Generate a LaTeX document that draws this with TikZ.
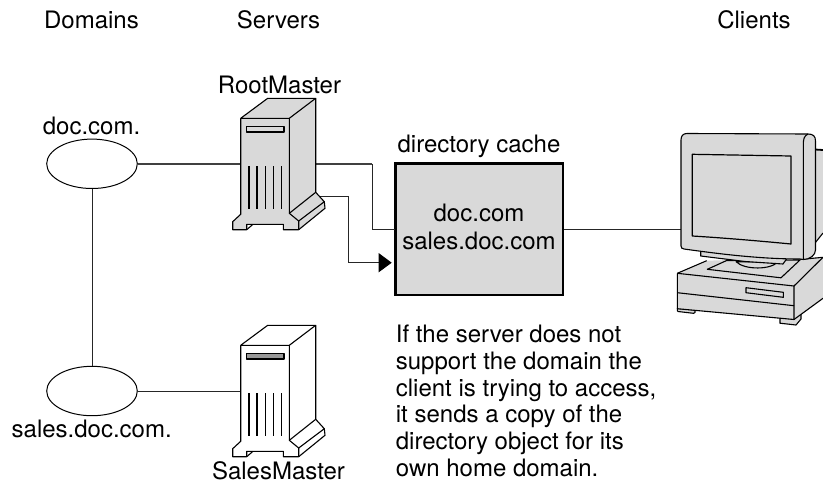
\documentclass[tikz,border=0pt]{standalone}
\usepackage{fontspec}
\setmainfont{TeX Gyre Heros}
\usetikzlibrary{shapes.geometric,arrows.meta}
\definecolor{panel}{HTML}{D9D9D9}
\definecolor{slotdark}{HTML}{999999}
\tikzset{
  x=1pt,y=-1pt,
  lab/.style={font=\fontsize{24}{26.8}\selectfont,text=black,inner sep=0pt,anchor=base},
  dom/.style={draw=black,line width=1pt,ellipse,fill=white,minimum width=90.6pt,minimum height=49.4pt,inner sep=0pt},
  conn/.style={draw=black!85,line width=1pt},
  connb/.style={draw=black!75,line width=1.5pt},
  art/.style={draw=black,line width=1.1pt,line join=round},
  cache/.style={draw=black,line width=2.5pt,fill=panel,inner sep=0pt},
  anchorbox/.style={inner sep=0pt,minimum width=0pt,minimum height=0pt}
}
% #1 y shift, #2 body fill, #3 slot fill
\newcommand{\serverart}[3]{%
\begin{scope}[yshift=-#1pt]
 \fill[#2] (240.7,118.3)--(267.7,98.3)--(315.7,98.3)--(315.7,192.3)--(324.3,201.7)--(325,208.3)--(298.7,229.7)--(283.3,229.7)--(283.3,224.3)--(246.7,224.3)--(246.7,229.7)--(232.7,229.7)--(232.7,221.7)--(240.7,214.3)--cycle;
 \draw[art] (240.7,118.3)--(267.7,98.3)--(315.7,98.3)--(289.3,118.3)--cycle;
 \draw[art] (240.7,118.3)--(240.7,214.3)--(232.7,221.7)--(232.7,229.7)--(246.7,229.7)--(246.7,224.3)--(283.3,224.3)--(283.3,229.7)--(298.7,229.7)--(298.7,221)--(289.3,213.3)--(289.3,118.3);
 \draw[art] (315.7,98.3)--(315.7,192.3)--(289.3,213.3);
 \draw[art] (315.7,192.3)--(324.3,201.7)--(298.7,221);
 \draw[art] (324.3,201.7)--(325,208.3)--(298.7,229.7);
 \draw[art] (246.7,229.7)--(253,224.3);
 \draw[art,fill=#3] (246.3,126.3) rectangle (284,132);
 \foreach \vx in {249,257,265.3,273.3,281.3}{\draw[art] (\vx,166)--(\vx,209);}
\end{scope}}
\begin{document}
\begin{tikzpicture}
\useasboundingbox (0,0) rectangle (823,485);
\fill[white] (0,0) rectangle (823,485);
% text
\node[lab] (hdom) at (91.5,28) {Domains};
\node[lab] (hsrv) at (278.5,28) {Servers};
\node[lab] (hcli) at (754,28) {Clients};
\node[lab] (lroot) at (279.5,93) {RootMaster};
\node[lab] (ldoc) at (91.5,134) {doc.com.};
\node[lab] (lcache) at (479,152.7) {directory cache};
\node[lab] (lsales) at (91.7,437.7) {sales.doc.com.};
\node[lab] (lsm) at (278.5,479) {SalesMaster};
\foreach \nn/\ny/\nt in {a/342.7/{If the server does not},b/369.4/{support the domain the},c/396/{client is trying to access,},d/422.7/{it sends a copy of the},e/449.4/{directory object for its},f/476/{own home domain.}}{
  \node[lab,anchor=base west] (note\nn) at (395.7,\ny) {\nt};
}
% anchor nodes
\node[dom] (edoc) at (92,163.8) {};
\node[dom] (esales) at (92,391) {};
\node[anchorbox] (srvA) at (240.7,163.8) {};
\node[anchorbox] (srvAr) at (315.7,163.8) {};
\node[anchorbox] (srvAb) at (319,196.7) {};
\node[anchorbox] (srvB) at (240.7,391) {};
\node[anchorbox] (mon) at (681,229.3) {};
\node[cache,minimum width=167.5pt,minimum height=131.3pt] (box) at (479.3,229.3) {};
\node[lab] (boxa) at (479,221.7) {doc.com};
\node[lab] (boxb) at (479,249) {sales.doc.com};
\coordinate (boxin) at (394.5,229.5);
\coordinate (boxarr) at (391.7,262.7);
% connectors
\draw[conn] (edoc) -- (esales);
\draw[connb] (edoc) -- (srvA);
\draw[conn] (esales) -- (srvB);
\draw[connb] (srvAr) -- (372,163.8);
\draw[conn] (372,163.8) -- (372,229.5) -- (boxin);
\draw[conn,-{Triangle[length=13pt,width=19pt,color=black]}] (srvAb) -- (348,196.7) -- (348,262.7) -- (boxarr);
\draw[conn] (box.east |- mon) -- (mon);
% servers
\serverart{0}{panel}{panel}
\serverart{227}{white}{slotdark}
% client: back of monitor
\fill[panel] (815,149.5)--(823,150)--(823,233)--(815,243)--cycle;
\draw[art,line width=1.8pt] (815,149.5)--(823,150);
\draw[art] (815,243)--(823,233);
% base unit
\draw[art,fill=panel] (677.3,308.5)--(695,310)--(695,312.5)--(693.5,313.3)--(678,311.5)--(677.3,310.5)--cycle;
\draw[art,fill=panel] (780,317)--(780,323.2)--(796,325)--(801,319)--(801,312)--cycle;
\fill[panel] (677.3,273.3)--(706.7,260.7)--(823,257.3)--(823,298.3)--(794,319.5)--(677.3,308.7)--cycle;
\draw[art] (677.3,273.3)--(706.7,260.7);
\draw[art] (800,259.5)--(823,257.3);
\draw[art] (677.3,273.3)--(794,286)--(823,257.3);
\draw[art] (677.3,273.3)--(677.3,308.7)--(794,319.5)--(794,286);
\draw[art] (677.3,292.7)--(794,305.7);
\draw[art] (794,319.5)--(823,298.3);
\draw[art] (746,287.7)--(783.3,292.3)--(783.3,297.3)--(746,292.7)--cycle;
% platform and stand
\draw[art,fill=panel] (707.3,269.3)--(726.7,260.5)--(800,260)--(781,277.8)--cycle;
\draw[art,fill=panel] (736,261.7)--(777.3,262) .. controls (772,269.5) and (745,270.5) .. (736,261.7)--cycle;
\draw[art,fill=panel] (700.7,250)--(700.7,256)--(745,261.5)--(783,264)--(787,258.3)--(790,250)--cycle;
% monitor
\draw[art,fill=panel] (687,133.5)--(808,134) .. controls (813,134) and (815.5,136) .. (815.5,141)--(815.5,250) .. controls (815.5,255) and (810,259.5) .. (803.3,259.5)
  --(800,259) .. controls (760,259) and (720,254) .. (684,249) .. controls (682,248.5) and (681,248) .. (681,246)--(681,140) .. controls (681,136) and (683,133.5) .. (687,133.5)--cycle;
\draw[art] (808,134) .. controls (804,136) and (803.3,139) .. (803.3,145)--(803.3,259.5);
\draw[art,line width=1.2pt] (692.3,154.3)--(791,156)--(791,244) .. controls (760,241) and (725,238) .. (692.3,236)--cycle;
\end{tikzpicture}
\end{document}
